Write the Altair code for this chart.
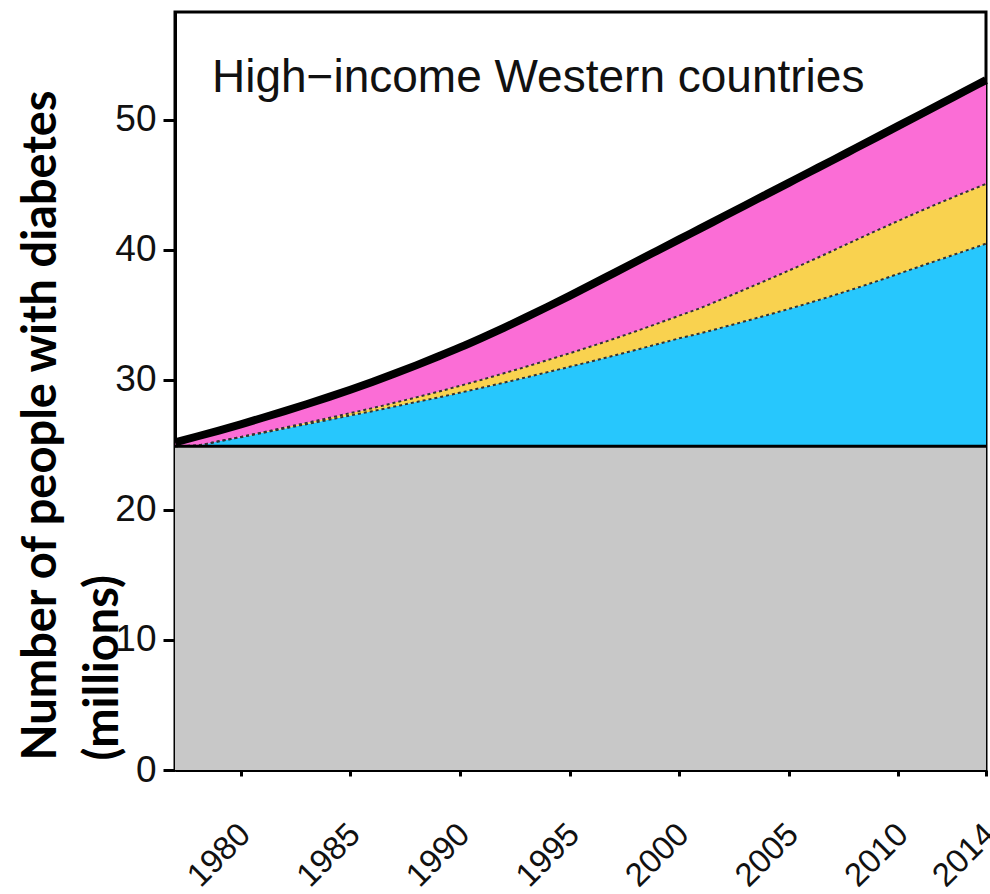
import altair as alt
import pandas as pd

# ---- data ----
years = list(range(1977, 2015))
gray_level = 24.9
blue_top = [24.9, 24.97, 25.28, 25.6, 25.93, 26.27, 26.6, 26.93, 27.27, 27.6,
            27.95, 28.3, 28.65, 29.02, 29.4, 29.79, 30.19, 30.6, 31.01, 31.43,
            31.86, 32.3, 32.75, 33.2, 33.6, 34.05, 34.51, 34.98, 35.46, 35.96,
            36.48, 37.02, 37.58, 38.16, 38.74, 39.32, 39.9, 40.48]
yellow_band = [0, 0, 0, 0.02, 0.04, 0.07, 0.1, 0.14, 0.18, 0.23,
               0.29, 0.36, 0.44, 0.53, 0.62, 0.72, 0.82, 0.93, 1.04, 1.16,
               1.29, 1.43, 1.58, 1.74, 1.95, 2.2, 2.45, 2.7, 2.95, 3.2,
               3.45, 3.7, 3.9, 4.08, 4.24, 4.38, 4.5, 4.6]
total = [25.2, 25.65, 26.11, 26.59, 27.09, 27.6, 28.13, 28.68, 29.25, 29.85,
         30.47, 31.12, 31.8, 32.5, 33.24, 34.01, 34.81, 35.63, 36.47, 37.33,
         38.2, 39.07, 39.94, 40.81, 41.68, 42.55, 43.42, 44.29, 45.16, 46.03,
         46.9, 47.78, 48.66, 49.54, 50.42, 51.3, 52.18, 53.06]
x_ticks = [1980, 1985, 1990, 1995, 2000, 2005, 2010, 2014]
y_ticks = [0, 10, 20, 30, 40, 50]
panel_title = "High\u2212income Western countries"
y_title = ["Number of people with diabetes", "(millions)"]

df = pd.DataFrame({
    "year": years,
    "zero": [0] * len(years),
    "gray": [gray_level] * len(years),
    "blue_top": blue_top,
    "yellow_band": yellow_band,
    "total": total,
})
# stack the yellow band on top of the blue layer
df["yellow_top"] = df["blue_top"] + df["yellow_band"]

title_df = pd.DataFrame({"label": [panel_title]})
rule_df = pd.DataFrame({"v": [gray_level]})

xscale = alt.Scale(domain=[1977, 2014], nice=False, zero=False)
yscale = alt.Scale(domain=[0, 58.3], nice=False, zero=False)

xaxis = alt.Axis(
    values=x_ticks, format="d", title=None,
    labelAngle=315, labelAlign="right", labelBaseline="middle",
    labelPadding=53, labelOffset=4, labelFlush=False, labelOverlap=False,
    labelFontSize=33, labelFont="Liberation Sans", labelColor="#111111",
    tickSize=6, tickWidth=3, tickColor="black",
    domain=True, domainColor="black", domainWidth=3, grid=False,
)
yaxis = alt.Axis(
    values=y_ticks, format="d", title=y_title,
    labelFontSize=37, labelFont="Liberation Sans", labelColor="#111111",
    labelPadding=7,
    tickSize=12, tickWidth=3, tickColor="black",
    domain=True, domainColor="black", domainWidth=3, grid=False,
    titleFont="Lato", titleFontWeight="bold", titleFontSize=47,
    titleColor="black", titleAngle=270, titleAlign="left", titleBaseline="top",
    titleX=-157, titleY=748, titleLineHeight=62,
)

X = alt.X("year:Q", scale=xscale, axis=xaxis)


def band(lo, hi, color):
    return alt.Chart(df).mark_area(
        color=color, opacity=1, interpolate="monotone"
    ).encode(
        x=X,
        y=alt.Y(f"{lo}:Q", scale=yscale, axis=yaxis),
        y2=alt.Y2(f"{hi}:Q"),
    )


gray = band("zero", "gray", "#C8C8C8")
blue = band("gray", "blue_top", "#27C7FD")
yellow = band("blue_top", "yellow_top", "#F9D24F")
pink = band("yellow_top", "total", "#FB6DD6")


def dashed(col):
    return alt.Chart(df).mark_line(
        color="#333333", strokeWidth=2, strokeDash=[3, 3], interpolate="monotone"
    ).encode(x=X, y=alt.Y(f"{col}:Q", scale=yscale, axis=yaxis))


blue_line = dashed("blue_top")
yellow_line = dashed("yellow_top")

base_rule = alt.Chart(rule_df).mark_rule(color="black", strokeWidth=3).encode(
    y=alt.Y("v:Q", scale=yscale, axis=yaxis)
)

top_line = alt.Chart(df).mark_line(
    color="black", strokeWidth=8, interpolate="monotone"
).encode(x=X, y=alt.Y("total:Q", scale=yscale, axis=yaxis))

label = alt.Chart(title_df).mark_text(
    align="left", baseline="alphabetic", fontSize=46,
    font="Liberation Sans", color="#111111",
).encode(x=alt.value(37), y=alt.value(80), text="label:N")

chart = alt.layer(
    gray, blue, yellow, pink, blue_line, yellow_line, base_rule, top_line, label
).properties(
    width=811, height=758,
    padding={"left": 175, "top": 12, "right": 4, "bottom": 124},
    autosize=alt.AutoSizeParams(type="none"),
    background="white",
).configure_view(
    stroke="black", strokeWidth=3,
)

chart.save("out.html", embed_options={"renderer": "svg", "actions": False})
